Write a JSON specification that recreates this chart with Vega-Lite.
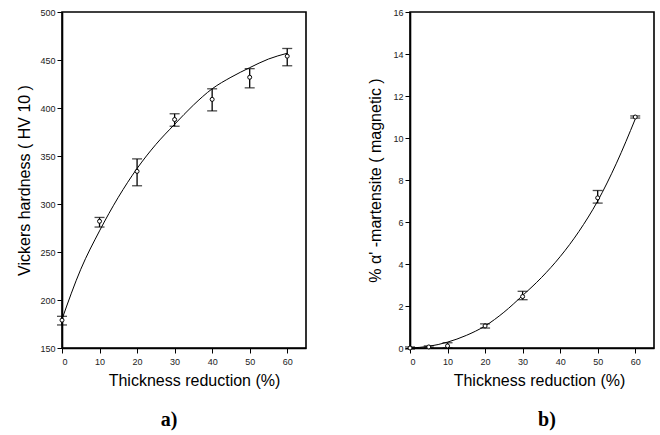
{
  "$schema": "https://vega.github.io/schema/vega-lite/v6.json",
  "autosize": {"type": "pad"},
  "padding": {"left": 16, "top": 7, "right": 4, "bottom": 5},
  "background": "white",
  "config": {
    "view": {"stroke": "black", "strokeWidth": 1.6},
    "axis": {
      "grid": false,
      "domainColor": "black",
      "domainWidth": 1.6,
      "tickColor": "black",
      "tickWidth": 1,
      "labelFont": "Liberation Sans",
      "labelFontSize": 9,
      "labelColor": "#222222",
      "labelPadding": 2,
      "titleFont": "Liberation Sans",
      "titleFontSize": 16,
      "titleFontWeight": "normal",
      "titleColor": "black"
    }
  },
  "datasets": {
    "hardness": [
      {"x": 0, "y": 179, "lo": 174, "hi": 183},
      {"x": 10, "y": 282, "lo": 276, "hi": 286},
      {"x": 20, "y": 334, "lo": 319, "hi": 347},
      {"x": 30, "y": 388, "lo": 381, "hi": 394},
      {"x": 40, "y": 409, "lo": 397, "hi": 420},
      {"x": 50, "y": 432, "lo": 421, "hi": 441},
      {"x": 60, "y": 454, "lo": 444, "hi": 462}
    ],
    "hardnessFit": [
      {"x": 0, "y": 180}, {"x": 5, "y": 232}, {"x": 10, "y": 272},
      {"x": 15, "y": 307}, {"x": 20, "y": 337}, {"x": 25, "y": 362},
      {"x": 30, "y": 383}, {"x": 35, "y": 403}, {"x": 40, "y": 420},
      {"x": 45, "y": 432}, {"x": 50, "y": 442}, {"x": 55, "y": 451},
      {"x": 60, "y": 457}
    ],
    "martensite": [
      {"x": 0, "y": 0, "lo": -0.05, "hi": 0.05},
      {"x": 5, "y": 0.05, "lo": 0.0, "hi": 0.1},
      {"x": 10, "y": 0.1, "lo": 0.0, "hi": 0.25},
      {"x": 20, "y": 1.05, "lo": 0.95, "hi": 1.15},
      {"x": 30, "y": 2.45, "lo": 2.3, "hi": 2.7},
      {"x": 50, "y": 7.15, "lo": 6.9, "hi": 7.5},
      {"x": 60, "y": 11.0, "lo": 10.95, "hi": 11.05}
    ],
    "martensiteFit": [
      {"x": 0, "y": 0}, {"x": 5, "y": 0.08}, {"x": 10, "y": 0.28},
      {"x": 15, "y": 0.6}, {"x": 20, "y": 1.05}, {"x": 25, "y": 1.7},
      {"x": 30, "y": 2.5}, {"x": 35, "y": 3.35}, {"x": 40, "y": 4.35},
      {"x": 45, "y": 5.55}, {"x": 50, "y": 7.0}, {"x": 55, "y": 8.8},
      {"x": 60, "y": 10.9}
    ]
  },
  "spacing": 104,
  "bounds": "flush",
  "hconcat": [
    {
      "width": 244,
      "height": 336,
      "title": {"text": "a)", "orient": "bottom", "font": "Liberation Serif", "fontSize": 20, "fontWeight": "bold", "color": "black", "dx": -15, "offset": 22},
      "layer": [
        {
          "data": {"name": "hardnessFit"},
          "mark": {"type": "line", "interpolate": "monotone", "color": "black", "strokeWidth": 1},
          "encoding": {
            "x": {
              "field": "x", "type": "quantitative",
              "scale": {"domain": [0, 65], "nice": false, "zero": false},
              "axis": {
                "title": "Thickness reduction (%)",
                "titleX": 132,
                "titlePadding": 6,
                "labelPadding": 4,
                "values": [0, 5, 10, 15, 20, 25, 30, 35, 40, 45, 50, 55, 60],
                "labelExpr": "datum.value % 10 === 0 ? datum.label : ''",
                "tickSize": {"condition": {"test": "datum.value % 10 === 0", "value": 5}, "value": 3}
              }
            },
            "y": {
              "field": "y", "type": "quantitative",
              "scale": {"domain": [150, 500], "nice": false, "zero": false},
              "axis": {
                "title": "Vickers hardness ( HV 10 )",
                "titlePadding": 7,
                "values": [150, 175, 200, 225, 250, 275, 300, 325, 350, 375, 400, 425, 450, 475, 500],
                "labelExpr": "datum.value % 50 === 0 ? datum.label : ''",
                "tickSize": {"condition": {"test": "datum.value % 50 === 0", "value": 5}, "value": 3}
              }
            }
          }
        },
        {
          "data": {"name": "hardness"},
          "mark": {"type": "rule", "color": "black", "strokeWidth": 1.3},
          "encoding": {
            "x": {"field": "x", "type": "quantitative"},
            "y": {"field": "lo", "type": "quantitative"},
            "y2": {"field": "hi"}
          }
        },
        {
          "data": {"name": "hardness"},
          "mark": {"type": "tick", "orient": "horizontal", "color": "black", "size": 10, "thickness": 1.3},
          "encoding": {
            "x": {"field": "x", "type": "quantitative"},
            "y": {"field": "lo", "type": "quantitative"}
          }
        },
        {
          "data": {"name": "hardness"},
          "mark": {"type": "tick", "orient": "horizontal", "color": "black", "size": 10, "thickness": 1.3},
          "encoding": {
            "x": {"field": "x", "type": "quantitative"},
            "y": {"field": "hi", "type": "quantitative"}
          }
        },
        {
          "data": {"name": "hardness"},
          "mark": {"type": "point", "shape": "circle", "filled": true, "fill": "white", "stroke": "black", "strokeWidth": 1, "size": 16, "opacity": 1},
          "encoding": {
            "x": {"field": "x", "type": "quantitative"},
            "y": {"field": "y", "type": "quantitative"}
          }
        }
      ]
    },
    {
      "width": 244,
      "height": 336,
      "title": {"text": "b)", "orient": "bottom", "font": "Liberation Serif", "fontSize": 20, "fontWeight": "bold", "color": "black", "dx": 15, "offset": 22},
      "layer": [
        {
          "data": {"name": "martensiteFit"},
          "mark": {"type": "line", "interpolate": "monotone", "color": "black", "strokeWidth": 1},
          "encoding": {
            "x": {
              "field": "x", "type": "quantitative",
              "scale": {"domain": [0, 65], "nice": false, "zero": false},
              "axis": {
                "title": "Thickness reduction (%)",
                "titleX": 129,
                "titlePadding": 6,
                "labelPadding": 4,
                "values": [0, 5, 10, 15, 20, 25, 30, 35, 40, 45, 50, 55, 60],
                "labelExpr": "datum.value % 10 === 0 ? datum.label : ''",
                "tickSize": {"condition": {"test": "datum.value % 10 === 0", "value": 5}, "value": 3}
              }
            },
            "y": {
              "field": "y", "type": "quantitative",
              "scale": {"domain": [0, 16], "nice": false, "zero": false},
              "axis": {
                "title": "% α' -martensite ( magnetic )",
                "titlePadding": 9,
                "values": [0, 1, 2, 3, 4, 5, 6, 7, 8, 9, 10, 11, 12, 13, 14, 15, 16],
                "labelExpr": "datum.value % 2 === 0 ? datum.label : ''",
                "tickSize": {"condition": {"test": "datum.value % 2 === 0", "value": 5}, "value": 3}
              }
            }
          }
        },
        {
          "data": {"name": "martensite"},
          "mark": {"type": "rule", "color": "black", "strokeWidth": 1.3},
          "encoding": {
            "x": {"field": "x", "type": "quantitative"},
            "y": {"field": "lo", "type": "quantitative"},
            "y2": {"field": "hi"}
          }
        },
        {
          "data": {"name": "martensite"},
          "mark": {"type": "tick", "orient": "horizontal", "color": "black", "size": 10, "thickness": 1.3},
          "encoding": {
            "x": {"field": "x", "type": "quantitative"},
            "y": {"field": "lo", "type": "quantitative"}
          }
        },
        {
          "data": {"name": "martensite"},
          "mark": {"type": "tick", "orient": "horizontal", "color": "black", "size": 10, "thickness": 1.3},
          "encoding": {
            "x": {"field": "x", "type": "quantitative"},
            "y": {"field": "hi", "type": "quantitative"}
          }
        },
        {
          "data": {"name": "martensite"},
          "mark": {"type": "point", "shape": "circle", "filled": true, "fill": "white", "stroke": "black", "strokeWidth": 1, "size": 16, "opacity": 1},
          "encoding": {
            "x": {"field": "x", "type": "quantitative"},
            "y": {"field": "y", "type": "quantitative"}
          }
        }
      ]
    }
  ]
}
